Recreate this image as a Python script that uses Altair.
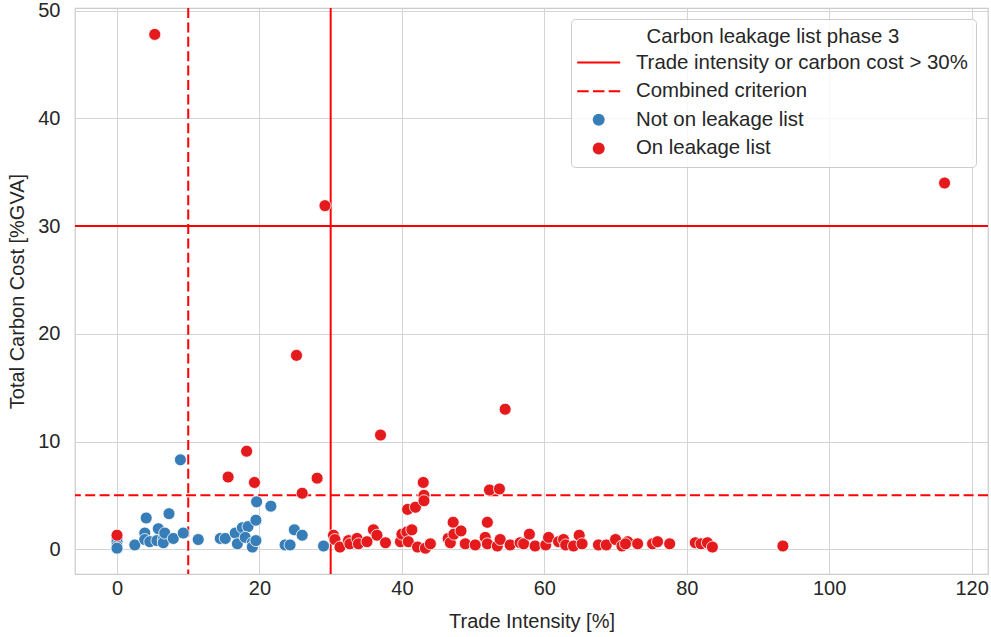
import altair as alt
import pandas as pd

# ---- data ----
not_x = [0, 0, 0, 0, 2.5, 3.9, 3.9, 4.1, 4.6, 5.6, 5.8, 6.5, 6.5, 6.7, 7.3, 7.9, 8.9, 9.3,
         11.4, 14.5, 15.2, 16.6, 16.9, 17.6, 18.4, 18.0, 19.0, 19.0, 19.5, 19.5, 19.6, 21.6,
         23.6, 24.3, 24.9, 26.0, 29.0]
not_y = [1.0, 0.7, 0.3, 0.1, 0.4, 1.5, 0.9, 2.9, 0.7, 0.8, 1.9, 0.9, 0.6, 1.5, 3.3, 1.0, 8.3, 1.5,
         0.9, 1.0, 1.0, 1.5, 0.5, 2.0, 2.1, 1.1, 0.6, 0.2, 2.7, 0.8, 4.4, 4.0,
         0.4, 0.4, 1.8, 1.3, 0.3]

on_x = [0, 5.3, 15.6, 18.2, 19.3, 25.2, 26.0, 28.1, 29.2, 30.4, 30.6, 31.3, 32.5, 32.7, 33.7,
        33.9, 35.1, 36.0, 36.5, 37.0, 37.7, 39.8, 40.0, 40.7, 40.8, 40.9, 41.4, 41.9, 42.2,
        43.0, 43.1, 43.1, 43.3, 44.0, 46.5, 46.8, 47.2, 47.3, 48.3, 48.9, 50.3, 51.7, 52.0,
        52.0, 52.3, 53.4, 53.7, 53.8, 54.5, 55.2, 56.6, 57.1, 57.9, 58.7, 60.2, 60.6, 62.0,
        62.7, 63.0, 64.1, 64.9, 65.3, 67.6, 68.7, 70.0, 70.9, 71.7, 71.4, 73.1, 75.2, 75.9,
        77.6, 81.2, 82.0, 82.9, 83.6, 93.5, 116.2]
on_y = [1.3, 47.8, 6.7, 9.1, 6.2, 18.0, 5.2, 6.6, 31.9, 1.3, 0.9, 0.2, 0.8, 0.5, 1.0,
        0.5, 0.7, 1.8, 1.3, 10.6, 0.6, 0.7, 1.4, 1.6, 3.7, 0.7, 1.8, 3.9, 0.2,
        6.2, 5.0, 4.5, 0.1, 0.5, 1.0, 0.6, 2.5, 1.4, 1.7, 0.5, 0.4, 1.1, 2.5,
        0.5, 5.5, 0.3, 5.6, 0.9, 13.0, 0.4, 0.6, 0.5, 1.4, 0.3, 0.4, 1.1, 0.7,
        0.9, 0.4, 0.3, 1.3, 0.5, 0.4, 0.4, 0.9, 0.3, 0.7, 0.5, 0.5, 0.5, 0.7,
        0.5, 0.6, 0.5, 0.6, 0.2, 0.3, 34.0]

entries = ["Trade intensity or carbon cost > 30%", "Combined criterion",
           "Not on leakage list", "On leakage list"]
solid_threshold = [30]
dashed_x_threshold = [10]
dashed_y_threshold = [5]

x_ticks = [0, 20, 40, 60, 80, 100, 120]
y_ticks = [0, 10, 20, 30, 40, 50]

df = pd.DataFrame({
    "x": not_x + on_x,
    "y": not_y + on_y,
    "status": [entries[2]] * len(not_x) + [entries[3]] * len(on_x),
})

FONT = "Liberation Sans"
TXT = "#262626"
FS = 20
LFS = 20.4

xs = alt.Scale(domain=[-5.9, 122.3], nice=False, zero=False)
ys = alt.Scale(domain=[-2.3, 50.25], nice=False, zero=False)
xaxis = alt.Axis(values=x_ticks, title="Trade Intensity [%]", labelPadding=4, titlePadding=13)
yaxis = alt.Axis(values=y_ticks, title="Total Carbon Cost [%GVA]", labelPadding=15, titlePadding=10)

# legend symbol paths (unit = 6 px for size 144)
line_path = "M-3.583,-0.167H3.583V0.167H-3.583Z"
dash_path = ("M-3.583,-0.167H-1.667V0.167H-3.583Z "
             "M-0.958,-0.167H0.958V0.167H-0.958Z "
             "M1.667,-0.167H3.583V0.167H1.667Z")

leg = alt.Legend(
    title="Carbon leakage list phase 3", orient="none", legendX=496, legendY=11,
    padding=8, fillColor="rgba(255,255,255,0.8)", strokeColor="#cccccc", cornerRadius=4,
    titleAnchor="middle", titleFontSize=LFS, titleFontWeight="normal", titleColor=TXT,
    titleFont=FONT, labelFontSize=LFS, labelColor=TXT, labelFont=FONT,
    symbolOffset=9.5, labelOffset=27, rowPadding=7.6, titlePadding=5,
    symbolStrokeWidth=0, symbolSize=144, symbolOpacity=1, labelLimit=0, titleLimit=0,
)

vsolid = alt.Chart(pd.DataFrame({"x": solid_threshold})).mark_rule(
    color="#ff0000", strokeWidth=2).encode(x=alt.X("x:Q", scale=xs, axis=xaxis))
hsolid = alt.Chart(pd.DataFrame({"y": solid_threshold})).mark_rule(
    color="#ff0000", strokeWidth=2).encode(y=alt.Y("y:Q", scale=ys, axis=yaxis))
vdash = alt.Chart(pd.DataFrame({"x": dashed_x_threshold})).mark_rule(
    color="#ff0000", strokeWidth=2, strokeDash=[10, 4.4]).encode(x=alt.X("x:Q", scale=xs, axis=xaxis))
hdash = alt.Chart(pd.DataFrame({"y": dashed_y_threshold})).mark_rule(
    color="#ff0000", strokeWidth=2, strokeDash=[10, 4.4]).encode(y=alt.Y("y:Q", scale=ys, axis=yaxis))

points = alt.Chart(df).mark_point(
    filled=True, size=144, opacity=1, stroke="white", strokeWidth=0.8
).encode(
    x=alt.X("x:Q", scale=xs, axis=xaxis),
    y=alt.Y("y:Q", scale=ys, axis=yaxis),
    color=alt.Color("status:N", scale=alt.Scale(
        domain=entries, range=["#ff0000", "#ff0000", "#377eb8", "#e41a1c"]), legend=leg),
    shape=alt.Shape("status:N", scale=alt.Scale(
        domain=entries, range=[line_path, dash_path, "circle", "circle"]), legend=leg),
)

chart = alt.layer(vsolid, hsolid, vdash, hdash, points).properties(
    width=913, height=566,
    autosize=alt.AutoSizeParams(type="none"),
    padding={"left": 75, "top": 8, "right": 3, "bottom": 63},
    background="white",
).configure_axis(
    labelFont=FONT, titleFont=FONT, labelFontSize=FS, titleFontSize=FS,
    labelColor=TXT, titleColor=TXT, titleFontWeight="normal",
    gridColor="#d4d4d4", gridWidth=1, domain=False, ticks=False,
).configure_view(stroke="#cccccc", strokeWidth=1.25)

chart.save("out.html", embed_options={"renderer": "svg", "actions": False})
